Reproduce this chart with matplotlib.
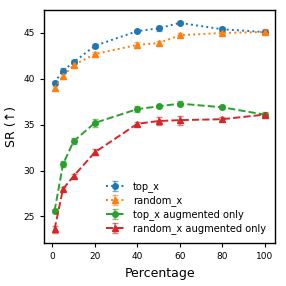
import numpy as np
import matplotlib
matplotlib.use("Agg")
import matplotlib.pyplot as plt

# percentages of data used
pct = [1, 5, 10, 20, 40, 50, 60, 80, 100]

# SR values
top_x = [39.6, 40.9, 41.8, 43.6, 45.2, 45.5, 46.1, 45.4, 45.1]
top_x_err = [0.2, 0.3, 0.2, 0.2, 0.15, 0.25, 0.15, 0.2, 0.2]
random_x = [39.0, 40.3, 41.5, 42.7, 43.7, 43.9, 44.75, 45.0, 45.1]
random_x_err = [0.2, 0.3, 0.2, 0.2, 0.3, 0.2, 0.2, 0.2, 0.3]
top_aug = [25.6, 30.7, 33.2, 35.2, 36.7, 37.0, 37.3, 36.9, 36.1]
top_aug_err = [0.2, 0.3, 0.3, 0.4, 0.3, 0.2, 0.3, 0.2, 0.2]
random_aug = [23.6, 28.0, 29.4, 32.0, 35.1, 35.4, 35.5, 35.6, 36.1]
random_aug_err = [0.4, 0.2, 0.2, 0.3, 0.2, 0.4, 0.5, 0.2, 0.3]

fig = plt.figure(figsize=(2.86, 2.86), dpi=100)
ax = fig.add_axes([0.154, 0.150, 0.808, 0.815])

series = [
    (top_x, top_x_err, "top_x", "#1f77b4", "o", ":"),
    (random_x, random_x_err, "random_x", "#ff7f0e", "^", ":"),
    (top_aug, top_aug_err, "top_x augmented only", "#2ca02c", "o", "--"),
    (random_aug, random_aug_err, "random_x augmented only", "#d62728", "^", "--"),
]
for vals, err, lab, col, mk, ls in series:
    cont = ax.errorbar(pct, vals, yerr=err, label=lab, color=col, marker=mk,
                       linestyle=ls, linewidth=1.4, markersize=4, capsize=2,
                       elinewidth=1.2, capthick=1.0)
    for c in cont[1]:
        c.set_alpha(0.6)
    for c in cont[2]:
        c.set_alpha(0.6)

ax.set_xlabel("Percentage", fontsize=9)
ax.set_ylabel("SR (↑)", fontsize=9)
ax.set_xticks([0, 20, 40, 60, 80, 100])
ax.set_yticks([25, 30, 35, 40, 45])
ax.set_ylim(22.1, 47.5)
ax.tick_params(labelsize=6.5, length=3, width=0.8)
for s in ax.spines.values():
    s.set_linewidth(1.0)
ax.legend(loc="lower right", fontsize=7.1, frameon=False,
          bbox_to_anchor=(1.0, 0.0), handlelength=2.0, labelspacing=0.3)

fig.savefig("out.png", dpi=100)
